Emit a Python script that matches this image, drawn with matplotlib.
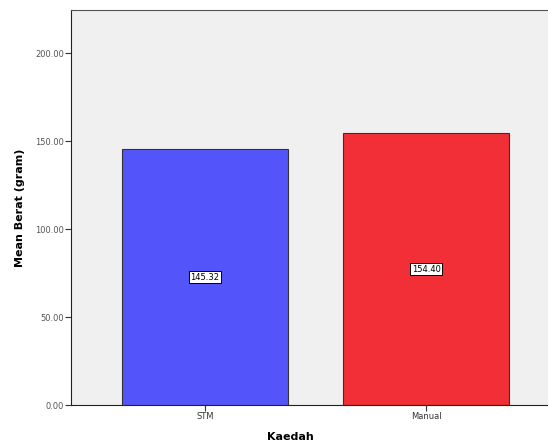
import matplotlib
matplotlib.use("Agg")
import matplotlib.pyplot as plt

categories = ["STM", "Manual"]
values = [145.32, 154.40]
colors = ["#5454fb", "#f22e36"]
yticks = [0, 50, 100, 150, 200]

fig = plt.figure(figsize=(5.48, 4.44), dpi=100)
fig.patch.set_facecolor("white")
ax = fig.add_axes([71/548, (444-405)/444, (560-71)/548, (405-10)/444])
ax.set_facecolor("#f0f0f0")

x = list(range(len(categories)))
ax.bar(x, values, width=0.75, color=colors, edgecolor="#333333", linewidth=0.8, zorder=2)
for xi, v in zip(x, values):
    ax.text(xi, v / 2, f"{v:.2f}", ha="center", va="center", fontsize=6, color="black",
            bbox=dict(boxstyle="square,pad=0.2", facecolor="white", edgecolor="black", linewidth=0.7),
            zorder=3)

ax.set_xlim(-0.606, 1.606)
ax.set_ylim(0, 224.5)
ax.set_xticks(x)
ax.set_xticklabels(categories, fontsize=6, color="#333333")
ax.set_yticks(yticks)
ax.set_yticklabels([f"{t:.2f}" for t in yticks], fontsize=6, color="#555555")
ax.tick_params(axis="both", length=4, width=0.8, color="#333333", pad=1)
for s in ax.spines.values():
    s.set_color("#555555")
    s.set_linewidth(0.8)
ax.spines["left"].set_color("#222222")
ax.spines["bottom"].set_color("#222222")

ax.set_ylabel("Mean Berat (gram)", fontsize=8, fontweight="bold")
ax.set_xlabel("Kaedah", fontsize=8, fontweight="bold")
ax.xaxis.set_label_coords((290 - 71) / (560 - 71), -27 / 395)
ax.yaxis.set_label_coords(-46 / 489, 0.5)

fig.savefig("out.png", dpi=100)
